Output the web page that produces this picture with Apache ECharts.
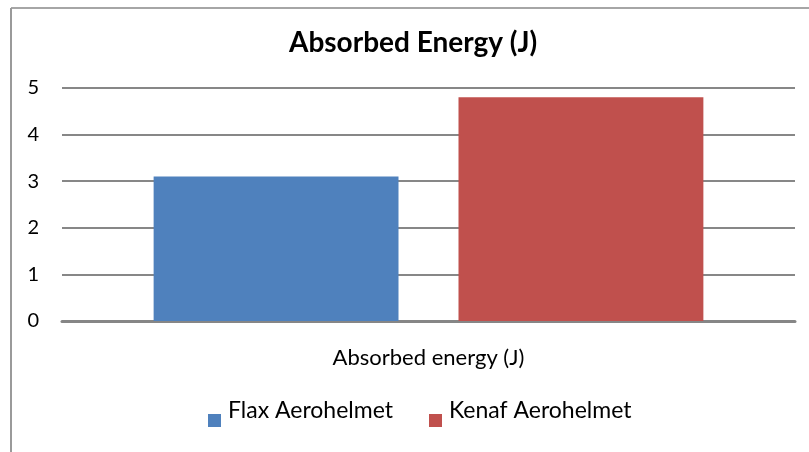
<!DOCTYPE html>
<html>
<head>
<meta charset="utf-8">
<script src="https://cdn.jsdelivr.net/npm/echarts@6/dist/echarts.min.js"></script>
<style>
  html, body { margin: 0; padding: 0; background: #fff; }
  #chart { width: 809px; height: 452px; }
</style>
</head>
<body>
<div id="chart"></div>
<script>
// Absorbed energy of the two helmet materials
const categories = ['Absorbed energy (J)'];
const seriesNames = ['Flax Aerohelmet', 'Kenaf Aerohelmet'];
const flaxValues = [3.1];
const kenafValues = [4.8];
const yTicks = [0, 1, 2, 3, 4, 5];

const FONT = 'Lato, "Open Sans", sans-serif';
const chart = echarts.init(document.getElementById('chart'));

chart.setOption({
  animation: false,
  backgroundColor: '#ffffff',
  title: {
    text: 'Absorbed Energy (J)',
    left: 289,
    top: 29,
    padding: 0,
    textStyle: { fontFamily: FONT, fontSize: 28, fontWeight: 'bold', color: '#000' }
  },
  grid: { left: 62, right: 14, top: 88, bottom: 131, containLabel: false },
  legend: {
    data: seriesNames,
    top: 399,
    left: 208,
    padding: 0,
    itemWidth: 13,
    itemHeight: 13,
    itemGap: 36,
    icon: 'rect',
    formatter: function (name) { return '{t|' + name + '}'; },
    textStyle: {
      color: '#000',
      rich: { t: { fontFamily: FONT, fontSize: 23, color: '#000', padding: [0, 0, 20, 2] } }
    }
  },
  xAxis: {
    type: 'category',
    data: categories,
    axisLine: { lineStyle: { color: '#868686', width: 3 } },
    axisTick: { show: false },
    axisLabel: { fontFamily: FONT, fontSize: 22, color: '#000', margin: 26 }
  },
  yAxis: {
    type: 'value',
    min: yTicks[0],
    max: yTicks[yTicks.length - 1],
    interval: 1,
    axisLine: { show: false },
    axisTick: { show: false },
    axisLabel: { fontFamily: FONT, fontSize: 20, color: '#000', margin: 23, padding: [6, 0, 0, 0] },
    splitLine: { lineStyle: { color: '#878787', width: 2 } }
  },
  series: [
    {
      name: seriesNames[0],
      type: 'bar',
      data: flaxValues,
      itemStyle: { color: '#4f81bd' },
      barGap: '24.5%',
      barCategoryGap: '25%'
    },
    {
      name: seriesNames[1],
      type: 'bar',
      data: kenafValues,
      itemStyle: { color: '#c0504d' }
    }
  ],
  graphic: [
    { type: 'line', shape: { x1: 11, y1: 8, x2: 809, y2: 8 }, style: { stroke: '#a6a6a6', lineWidth: 2 } },
    { type: 'line', shape: { x1: 11, y1: 8, x2: 11, y2: 452 }, style: { stroke: '#9a9a9a', lineWidth: 2 } }
  ]
});
</script>
</body>
</html>
